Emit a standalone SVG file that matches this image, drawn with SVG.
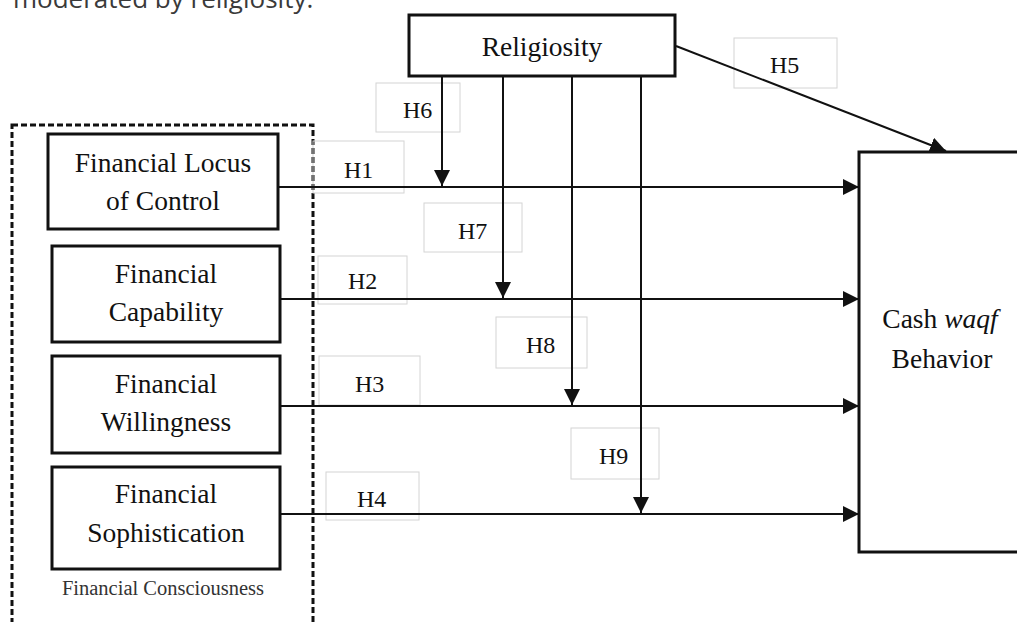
<svg xmlns="http://www.w3.org/2000/svg" width="1017" height="622" viewBox="0 0 1017 622">
<style>
.node{fill:#fff;stroke:#111;stroke-width:3}
.t{font-family:"Liberation Serif","Times New Roman",serif;font-size:27.5px;fill:#111;text-anchor:middle}
.lbl{fill:none;stroke:#d4d4d4;stroke-width:1}
.lt{font-family:"Liberation Serif","Times New Roman",serif;font-size:24px;fill:#111}
.c{stroke:#111;stroke-width:2;fill:none;marker-end:url(#ah)}
</style>
<defs>
<marker id="ah" markerUnits="userSpaceOnUse" markerWidth="16" markerHeight="16" viewBox="0 0 16 16" refX="16" refY="8" orient="auto">
<path d="M0,0 L16,8 L0,16 z" fill="#111"/>
</marker>
</defs>
<rect width="1017" height="622" fill="#fff"/>
<text x="13" y="8" font-family="'Open Sans',sans-serif" font-size="26" fill="#3a3a3a">moderated by religiosity.</text>

<g id="group-financial-consciousness">
<rect x="12" y="125" width="301" height="520" fill="none" stroke="#111" stroke-width="3" stroke-dasharray="6 3"/>
<text x="163" y="595" font-family="'Liberation Serif','Times New Roman',serif" font-size="20.5" fill="#333" text-anchor="middle">Financial Consciousness</text>
</g>

<g id="labels">
<rect class="lbl" x="734" y="38" width="103" height="50"/><text class="lt" x="770" y="73">H5</text>
<rect class="lbl" x="376" y="83" width="84" height="49"/><text class="lt" x="403" y="118">H6</text>
<rect class="lbl" x="313" y="141" width="91" height="52"/><text class="lt" x="344" y="178">H1</text>
<rect class="lbl" x="424" y="203" width="98" height="49"/><text class="lt" x="458" y="239">H7</text>
<rect class="lbl" x="318" y="256" width="89" height="48"/><text class="lt" x="348" y="289">H2</text>
<rect class="lbl" x="496" y="317" width="91" height="51"/><text class="lt" x="526" y="353">H8</text>
<rect class="lbl" x="319" y="356" width="101" height="49"/><text class="lt" x="355" y="392">H3</text>
<rect class="lbl" x="571" y="428" width="88" height="51"/><text class="lt" x="599" y="464">H9</text>
<rect class="lbl" x="326" y="472" width="93" height="48"/><text class="lt" x="357" y="507">H4</text>
</g>

<g id="connectors">
<line class="c" x1="278" y1="187" x2="859" y2="187"/>
<line class="c" x1="280" y1="299" x2="859" y2="299"/>
<line class="c" x1="280" y1="406" x2="859" y2="406"/>
<line class="c" x1="280" y1="514" x2="859" y2="514"/>
<line class="c" x1="442" y1="76" x2="442" y2="186"/>
<line class="c" x1="503" y1="76" x2="503" y2="298"/>
<line class="c" x1="572" y1="76" x2="572" y2="405"/>
<line class="c" x1="641" y1="76" x2="641" y2="513"/>
<line class="c" x1="676" y1="46" x2="946" y2="151"/>
</g>

<g id="religiosity">
<rect class="node" x="409" y="15" width="266" height="61"/>
<text class="t" x="542" y="56">Religiosity</text>
</g>

<g id="financial-locus-of-control">
<rect class="node" x="48" y="134" width="230" height="95"/>
<text class="t" x="163" y="172">Financial Locus</text>
<text class="t" x="163" y="210">of Control</text>
</g>

<g id="financial-capability">
<rect class="node" x="52" y="246" width="228" height="96"/>
<text class="t" x="166" y="283">Financial</text>
<text class="t" x="166" y="321">Capability</text>
</g>

<g id="financial-willingness">
<rect class="node" x="52" y="356" width="228" height="97"/>
<text class="t" x="166" y="393">Financial</text>
<text class="t" x="166" y="431">Willingness</text>
</g>

<g id="financial-sophistication">
<rect class="node" x="52" y="467" width="228" height="102"/>
<text class="t" x="166" y="503">Financial</text>
<text class="t" x="166" y="542">Sophistication</text>
</g>

<g id="cash-waqf-behavior">
<rect class="node" x="859" y="152" width="180" height="400"/>
<text class="t" x="940" y="328">Cash <tspan font-style="italic">waqf</tspan></text>
<text class="t" x="942" y="368">Behavior</text>
</g>
</svg>
